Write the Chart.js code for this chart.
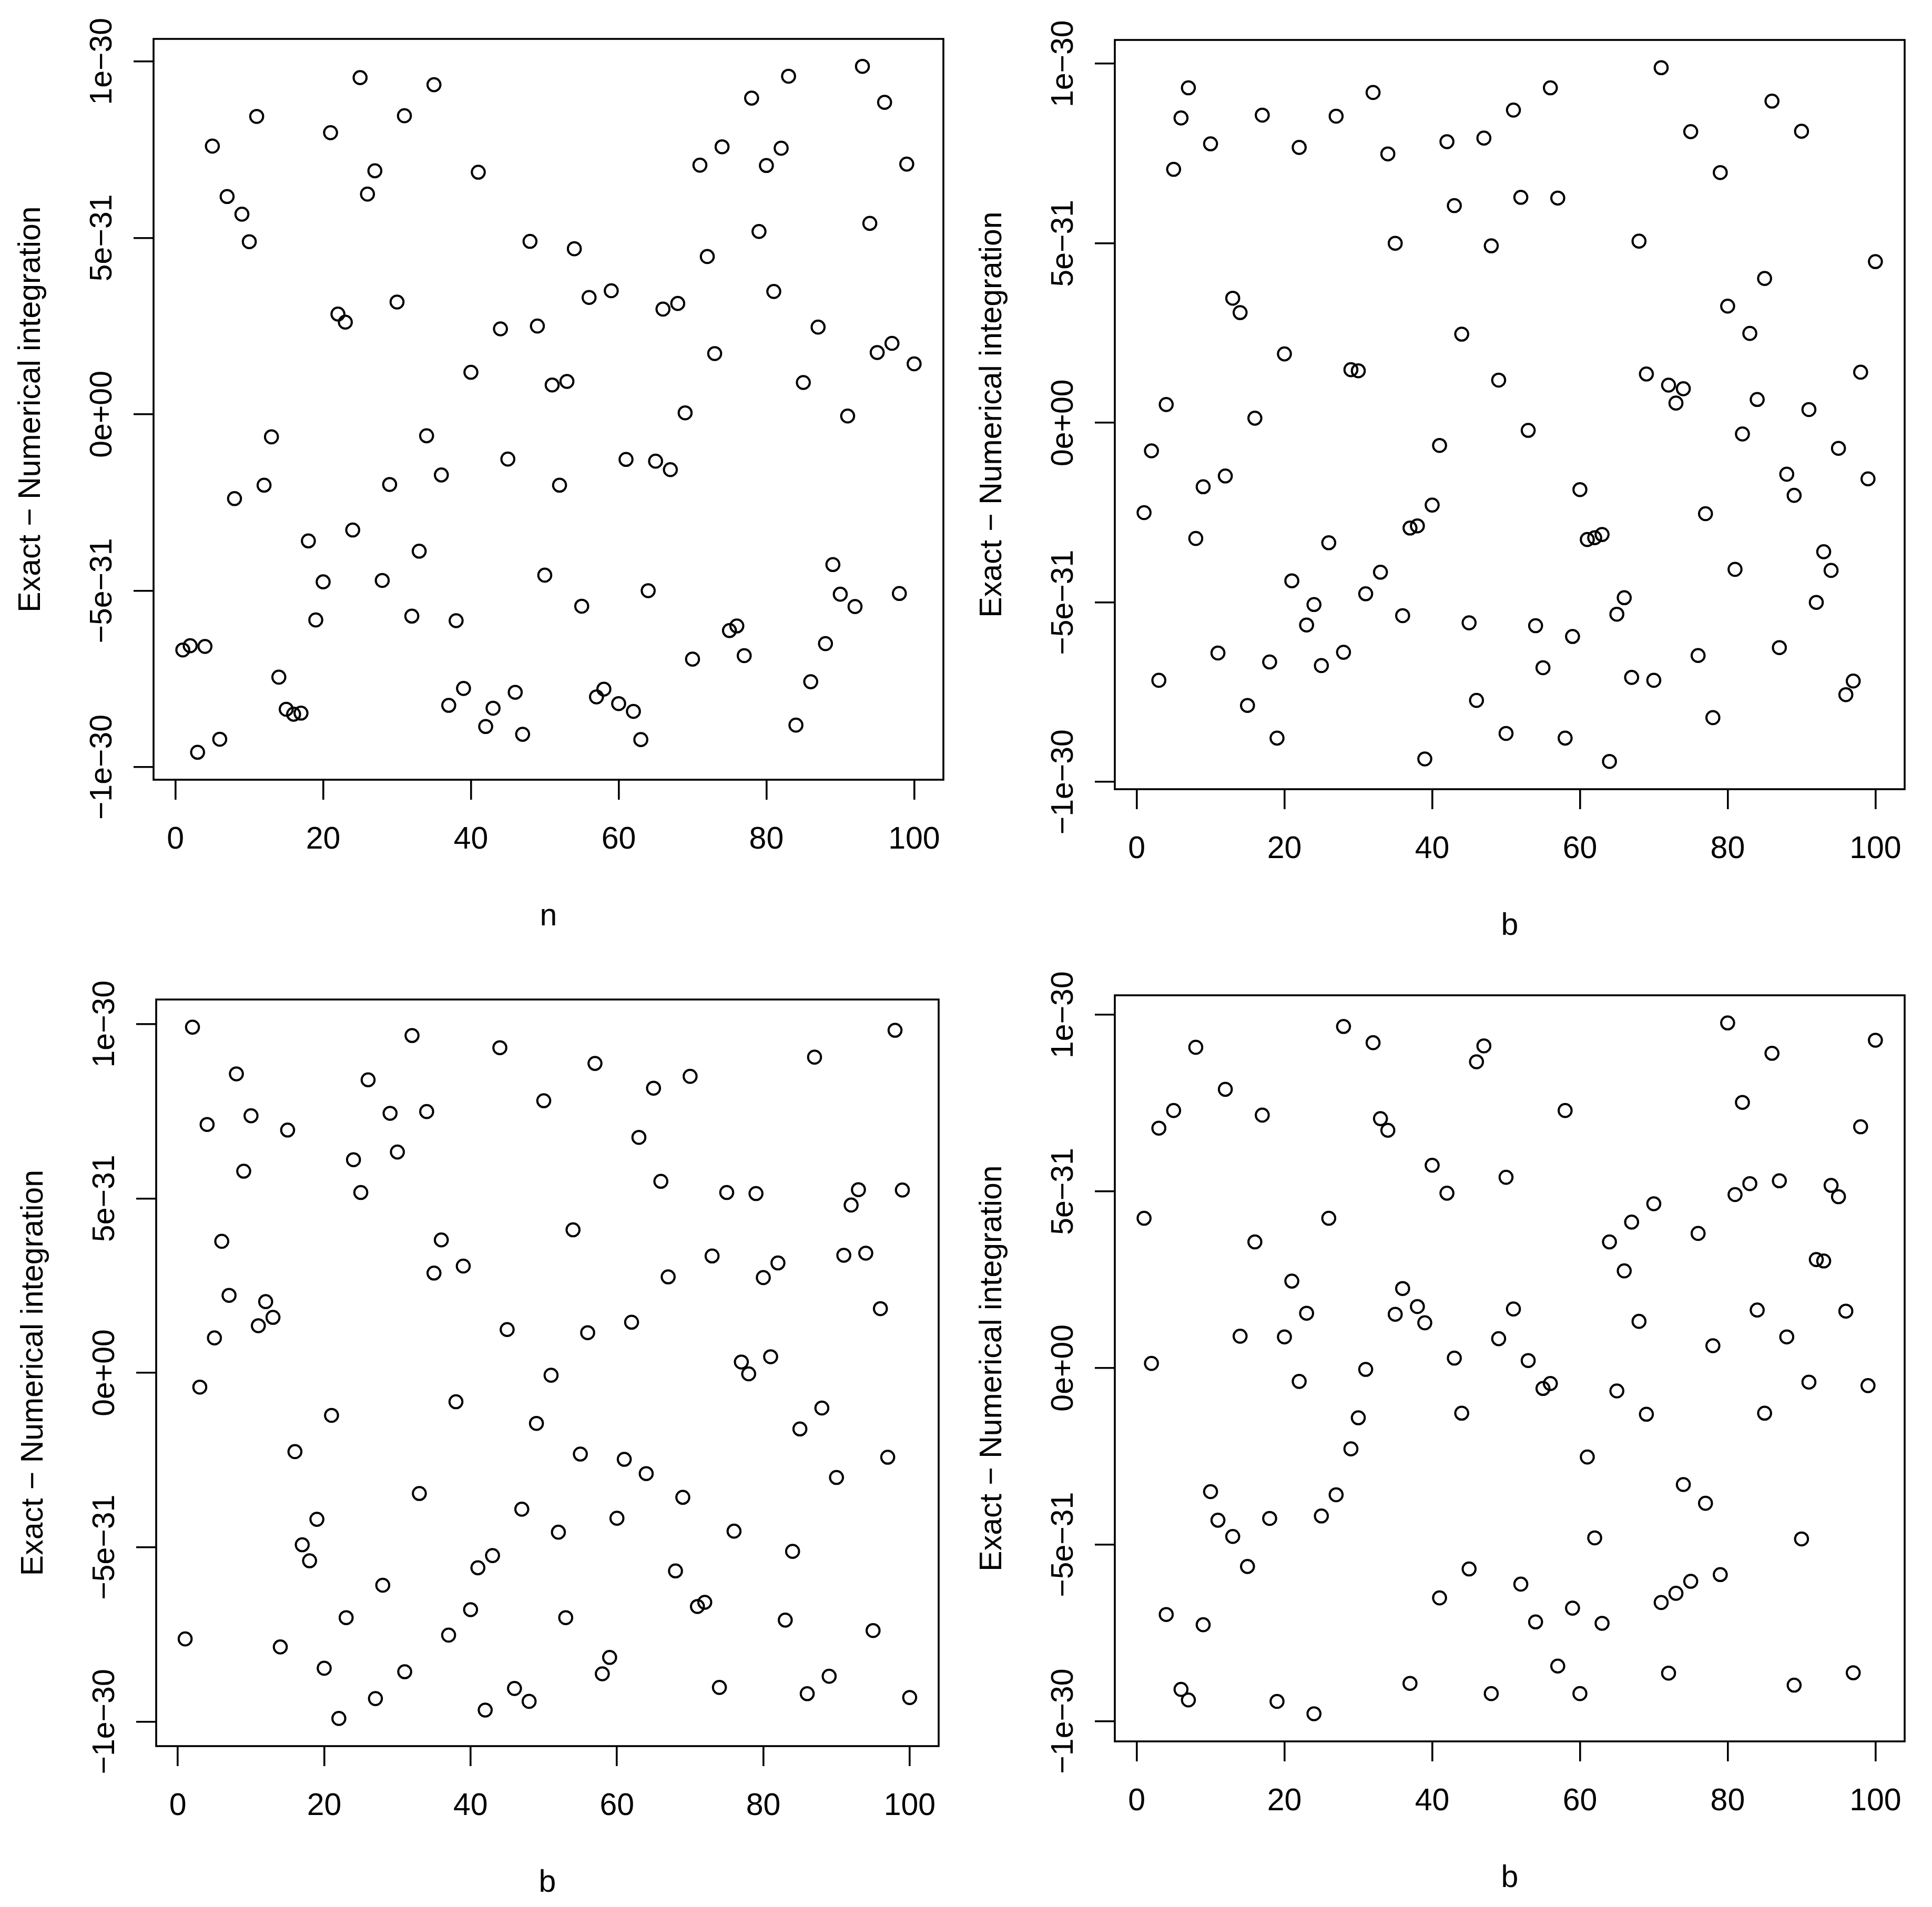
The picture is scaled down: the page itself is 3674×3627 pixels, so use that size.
<!DOCTYPE html>
<html>
<head>
<meta charset="utf-8">
<title>Exact - Numerical integration</title>
<script src="https://cdn.jsdelivr.net/npm/chart.js@4.4.1/dist/chart.umd.min.js"></script>
<style>
  html, body { margin: 0; padding: 0; background: #fff; }
  #page { position: relative; width: 3674px; height: 3627px; background: #fff; }
  canvas { position: absolute; }
</style>
</head>
<body>
<div id="page">
  <canvas id="c1" width="1837" height="1814" style="left:0px;top:0px"></canvas>
  <canvas id="c2" width="1837" height="1814" style="left:1837px;top:0px"></canvas>
  <canvas id="c3" width="1837" height="1814" style="left:0px;top:1813px"></canvas>
  <canvas id="c4" width="1837" height="1814" style="left:1837px;top:1813px"></canvas>
</div>
<script>
// index on the x axis
var n = [1, 2, 3, 4, 5, 6, 7, 8, 9, 10, 11, 12, 13, 14, 15, 16, 17, 18, 19, 20,
  21, 22, 23, 24, 25, 26, 27, 28, 29, 30, 31, 32, 33, 34, 35, 36, 37, 38, 39, 40,
  41, 42, 43, 44, 45, 46, 47, 48, 49, 50, 51, 52, 53, 54, 55, 56, 57, 58, 59, 60,
  61, 62, 63, 64, 65, 66, 67, 68, 69, 70, 71, 72, 73, 74, 75, 76, 77, 78, 79, 80,
  81, 82, 83, 84, 85, 86, 87, 88, 89, 90, 91, 92, 93, 94, 95, 96, 97, 98, 99, 100];

// exact - numerical, in units of 1e-31
var panel1 = [-6.68, -6.56, -9.58, -6.58, 7.60, -9.21, 6.17, -2.39, 5.67, 4.89,
  8.44, -2.01, -0.64, -7.45, -8.36, -8.50, -8.47, -3.59, -5.83, -4.75,
  7.98, 2.84, 2.61, -3.28, 9.54, 6.24, 6.90, -4.71, -1.99, 3.18,
  8.46, -5.72, -3.88, -0.61, 9.34, -1.72, -8.25, -5.85, -7.77, 1.19,
  6.86, -8.85, -8.33, 2.42, -1.27, -7.88, -9.07, 4.90, 2.50, -4.56,
  0.83, -2.01, 0.93, 4.69, -5.44, 3.31, -8.01, -7.79, 3.50, -8.20,
  -1.28, -8.42, -9.22, -5.00, -1.33, 2.98, -1.57, 3.14, 0.04, -6.94,
  7.06, 4.47, 1.72, 7.58, -6.13, -6.00, -6.84, 8.96, 5.18, 7.05,
  3.48, 7.54, 9.58, -8.81, 0.90, -7.58, 2.47, -6.50, -4.26, -5.10,
  -0.05, -5.45, 9.86, 5.41, 1.75, 8.84, 2.01, -5.08, 7.09, 1.43];

var panel2 = [-2.50, -0.78, -7.17, 0.51, 7.06, 8.49, 9.33, -3.22, -1.78, 7.77,
  -6.41, -1.48, 3.47, 3.07, -7.87, 0.13, 8.57, -6.66, -8.78, 1.92,
  -4.40, 7.67, -5.63, -5.06, -6.76, -3.34, 8.54, -6.39, 1.48, 1.45,
  -4.76, 9.20, -4.16, 7.49, 5.00, -5.37, -2.93, -2.87, -9.36, -2.29,
  -0.63, 7.83, 6.05, 2.47, -5.57, -7.73, 7.93, 4.93, 1.19, -8.65,
  8.71, 6.28, -0.21, -5.65, -6.82, 9.33, 6.26, -8.78, -5.95, -1.86,
  -3.25, -3.20, -3.11, -9.43, -5.33, -4.87, -7.09, 5.06, 1.36, -7.17,
  9.89, 1.05, 0.55, 0.95, 8.11, -6.48, -2.53, -8.21, 6.97, 3.25,
  -4.08, -0.31, 2.49, 0.65, 4.02, 8.96, -6.26, -1.43, -2.02, 8.12,
  0.37, -5.00, -3.59, -4.11, -0.71, -7.57, -7.19, 1.41, -1.56, 4.49];

var panel3 = [-7.63, 9.91, -0.41, 7.12, 1.00, 3.77, 2.22, 8.57, 5.78, 7.37,
  1.35, 2.04, 1.59, -7.86, 6.96, -2.26, -4.93, -5.39, -4.20, -8.47,
  -1.22, -9.91, -7.02, 6.11, 5.17, 8.40, -9.34, -6.09, 7.44, 6.33,
  -8.57, 9.67, -3.46, 7.49, 2.86, 3.81, -7.52, -0.83, 3.06, -6.79,
  -5.59, -9.67, -5.24, 9.32, 1.24, -9.05, -3.91, -9.42, -1.45, 7.80,
  -0.07, -4.57, -7.02, 4.10, -2.33, 1.15, 8.87, -8.63, -8.16, -4.17,
  -2.48, 1.45, 6.75, -2.89, 8.16, 5.49, 2.75, -5.68, -3.57, 8.50,
  -6.70, -6.58, 3.35, -9.02, 5.17, -4.54, 0.31, -0.03, 5.14, 2.73,
  0.46, 3.15, -7.09, -5.12, -1.61, -9.20, 9.05, -1.01, -8.70, -3.00,
  3.37, 4.81, 5.25, 3.43, -7.39, 1.84, -2.42, 9.82, 5.24, -9.31];

var panel4 = [4.24, 0.13, 6.79, -6.98, 7.29, -9.10, -9.40, 9.08, -7.27, -3.50,
  -4.31, 7.89, -4.77, 0.90, -5.62, 3.57, 7.16, -4.26, -9.44, 0.88,
  2.46, -0.38, 1.55, -9.79, -4.19, 4.24, -3.59, 9.67, -2.29, -1.41,
  -0.04, 9.21, 7.06, 6.73, 1.52, 2.25, -8.93, 1.74, 1.28, 5.74,
  -6.51, 4.95, 0.28, -1.28, -5.69, 8.67, 9.12, -9.22, 0.83, 5.40,
  1.67, -6.12, 0.21, -7.19, -0.58, -0.44, -8.44, 7.29, -6.80, -9.22,
  -2.52, -4.81, -7.23, 3.57, -0.65, 2.75, 4.13, 1.32, -1.31, 4.65,
  -6.64, -8.64, -6.38, -3.30, -6.04, 3.81, -3.83, 0.63, -5.85, 9.77,
  4.91, 7.52, 5.22, 1.64, -1.28, 8.91, 5.30, 0.88, -8.98, -4.84,
  -0.40, 3.07, 3.03, 5.17, 4.85, 1.61, -8.63, 6.83, -0.50, 9.28];

var xTicks = [0, 20, 40, 60, 80, 100];
var yTicks = [-10, -5, 0, 5, 10];
var yTickLabels = ['\u22121e\u221230', '\u22125e\u221231', '0e+00', '5e\u221231', '1e\u221230'];
var yTitle = 'Exact \u2212 Numerical integration';
var xTitles = ['n', 'b', 'b', 'b'];

var FONT = '59px "Liberation Sans", Arial, Helvetica, sans-serif';
var TICK = 38;

// plot box of each panel inside its canvas: left, top, right, bottom
var boxes = [
  [292, 74, 1794, 1483],
  [283, 76, 1785, 1501],
  [297, 88, 1785, 1508],
  [283, 80, 1785, 1499]
];

// R style range: data range stretched by 4% on each side
function paddedRange(values) {
  var lo = Math.min.apply(null, values);
  var hi = Math.max.apply(null, values);
  var pad = (hi - lo) * 0.04;
  return [lo - pad, hi + pad];
}

var rAxes = {
  id: 'rAxes',
  afterDraw: function (chart, args, opts) {
    var ctx = chart.ctx;
    var a = chart.chartArea;
    var xs = chart.scales.x;
    var ys = chart.scales.y;

    ctx.save();
    ctx.strokeStyle = '#000';
    ctx.lineWidth = 3.6;
    ctx.strokeRect(a.left, a.top, a.right - a.left, a.bottom - a.top);

    ctx.fillStyle = '#000';
    ctx.font = FONT;
    ctx.textAlign = 'center';
    ctx.textBaseline = 'alphabetic';

    xTicks.forEach(function (v) {
      ctx.fillText(String(v), xs.getPixelForValue(v), a.bottom + 131);
    });
    ctx.fillText(opts.xTitle, (a.left + a.right) / 2, a.bottom + 277);

    yTicks.forEach(function (v, i) {
      ctx.save();
      ctx.translate(a.left - 80, ys.getPixelForValue(v));
      ctx.rotate(-Math.PI / 2);
      ctx.fillText(yTickLabels[i], 0, 0);
      ctx.restore();
    });

    ctx.save();
    ctx.translate(a.left - 216, (a.top + a.bottom) / 2);
    ctx.rotate(-Math.PI / 2);
    ctx.fillText(yTitle, 0, 0);
    ctx.restore();

    ctx.restore();
  }
};

function makePanel(canvasId, values, xTitle, box) {
  var canvas = document.getElementById(canvasId);
  var xr = paddedRange(n);
  var yr = paddedRange(values);
  var points = n.map(function (x, i) { return { x: x, y: values[i] }; });

  var axisGrid = {
    drawOnChartArea: false,
    drawTicks: true,
    tickLength: TICK,
    lineWidth: 3.6,
    color: '#000'
  };

  return new Chart(canvas.getContext('2d'), {
    type: 'scatter',
    data: {
      datasets: [{
        data: points,
        pointStyle: 'circle',
        pointRadius: 12.3,
        pointBorderWidth: 4,
        pointBorderColor: '#000',
        pointBackgroundColor: 'rgba(0,0,0,0)',
        showLine: false
      }]
    },
    options: {
      responsive: false,
      animation: false,
      events: [],
      layout: {
        padding: {
          left: box[0] - TICK,
          top: box[1],
          right: canvas.width - box[2],
          bottom: canvas.height - box[3] - TICK
        }
      },
      scales: {
        x: {
          type: 'linear',
          min: xr[0],
          max: xr[1],
          grid: axisGrid,
          border: { display: false },
          ticks: { display: false },
          afterBuildTicks: function (scale) {
            scale.ticks = xTicks.map(function (v) { return { value: v }; });
          }
        },
        y: {
          type: 'linear',
          min: yr[0],
          max: yr[1],
          grid: axisGrid,
          border: { display: false },
          ticks: { display: false },
          afterBuildTicks: function (scale) {
            scale.ticks = yTicks.map(function (v) { return { value: v }; });
          }
        }
      },
      plugins: {
        legend: { display: false },
        tooltip: { enabled: false },
        rAxes: { xTitle: xTitle }
      }
    },
    plugins: [rAxes]
  });
}

makePanel('c1', panel1, xTitles[0], boxes[0]);
makePanel('c2', panel2, xTitles[1], boxes[1]);
makePanel('c3', panel3, xTitles[2], boxes[2]);
makePanel('c4', panel4, xTitles[3], boxes[3]);
</script>
</body>
</html>
